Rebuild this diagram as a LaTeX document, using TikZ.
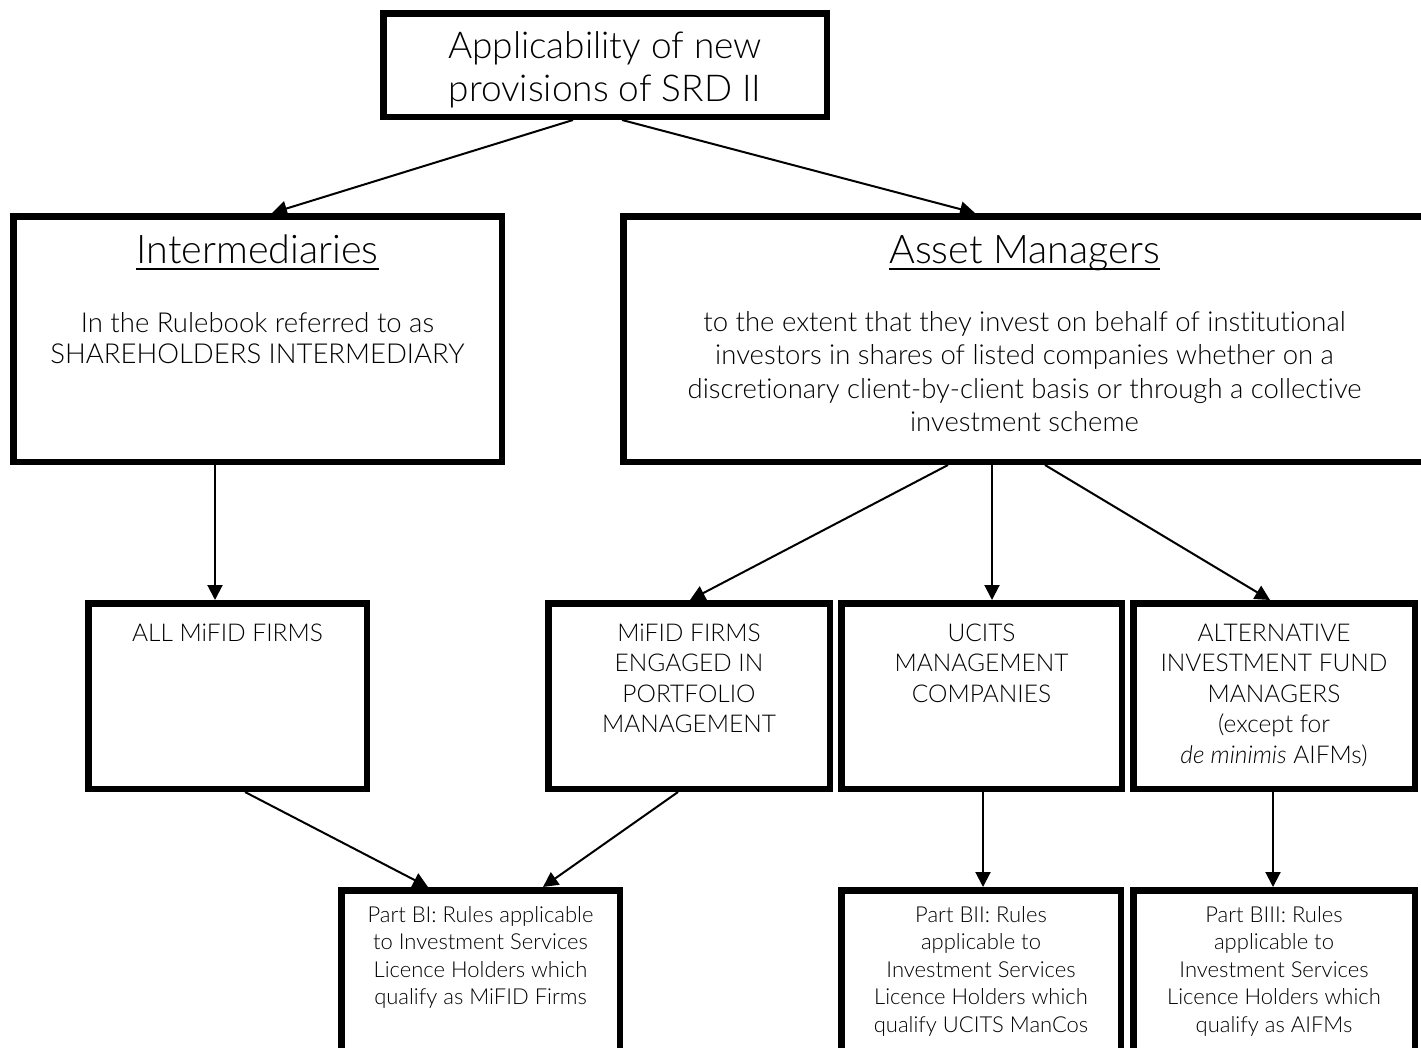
\documentclass[tikz,border=0pt]{standalone}
\usepackage{fontspec}
\setmainfont{Lato}[UprightFont=* Light, ItalicFont=* Light Italic, Ligatures=NoCommon]
\usetikzlibrary{arrows.meta,calc}
\tikzset{
  box/.style={draw=black, line width=6.5pt, inner sep=0pt, fill=white},
  txt/.style={align=center, inner sep=0pt, anchor=north},
  arr/.style={-{Triangle[length=15pt,width=15pt]}, line width=2pt},
}
\newcommand{\fs}[2]{\fontsize{#1}{#2}\selectfont}
\begin{document}
\begin{tikzpicture}[x=1pt,y=-1pt]
\useasboundingbox (0,0) rectangle (1421,1047);
\clip (0,0) rectangle (1421,1047);
\fill[white] (0,0) rectangle (1421,1047);

% boxes
\node[box, minimum width=443.5pt, minimum height=103.5pt] (top) at (605,65) {};
\node[box, minimum width=488.5pt, minimum height=245.5pt] (inter) at (257.5,339) {};
\node[box, minimum width=802.5pt, minimum height=245.5pt] (asset) at (1024.5,339) {};
\node[box, minimum width=278.5pt, minimum height=185.5pt] (allm) at (227.5,696) {};
\node[box, minimum width=281.5pt, minimum height=185.5pt] (pm) at (689,696) {};
\node[box, minimum width=280.5pt, minimum height=185.5pt] (ucits) at (981.5,696) {};
\node[box, minimum width=281.5pt, minimum height=185.5pt] (aifm) at (1274,696) {};
\node[box, minimum width=278.5pt, minimum height=176.5pt] (bi) at (480.5,978.5) {};
\node[box, minimum width=279.5pt, minimum height=176.5pt] (bii) at (981,978.5) {};
\node[box, minimum width=281.5pt, minimum height=176.5pt] (biii) at (1274,978.5) {};

% texts
\node[txt, font=\fs{37}{43}] (toptxt) at (605,27.9) {\strut Applicability of new\\provisions of SRD II};
\node[inner sep=0pt, anchor=base, font=\fs{39.5}{42}] (intertitle) at (257.5,263) {Intermediaries};
\draw[line width=2pt] ([yshift=-6pt]intertitle.base west) -- ([yshift=-6pt]intertitle.base east);
\node[txt, font=\fs{27.5}{31}] (intertxt) at (257.5,310.3) {\strut In the Rulebook referred to as\\SHAREHOLDERS INTERMEDIARY};
\node[inner sep=0pt, anchor=base, font=\fs{39.5}{42}] (assettitle) at (1024.5,263) {Asset Managers};
\draw[line width=2pt] ([yshift=-6pt]assettitle.base west) -- ([yshift=-6pt]assettitle.base east);
\node[txt, font=\fs{27.5}{33.5}] (assettxt) at (1024.5,307.5) {\strut to the extent that they invest on behalf of institutional\\investors in shares of listed companies whether on a\\discretionary client-by-client basis or through a collective\\investment scheme};

\node[txt, font=\fs{24.5}{30.5}] (allmtxt) at (227.5,619.6) {\strut ALL MiFID FIRMS};
\node[txt, font=\fs{24.5}{30.5}] (pmtxt) at (689,619.6) {\strut MiFID FIRMS\\ENGAGED IN\\PORTFOLIO\\MANAGEMENT};
\node[txt, font=\fs{24.5}{30.5}] (ucitstxt) at (981.5,619.6) {\strut UCITS\\MANAGEMENT\\COMPANIES};
\node[txt, font=\fs{24.5}{30.5}] (aifmtxt) at (1274,619.6) {\strut ALTERNATIVE\\INVESTMENT FUND\\MANAGERS\\(except for\\\textit{de minimis} AIFMs)};

\node[txt, font=\fs{22}{27.5}] (bitxt) at (480.5,902.75) {\strut Part BI: Rules applicable\\to Investment Services\\Licence Holders which\\qualify as MiFID Firms};
\node[txt, font=\fs{22}{27.5}] (biitxt) at (981,902.75) {\strut Part BII: Rules\\applicable to\\Investment Services\\Licence Holders which\\qualify UCITS ManCos};
\node[txt, font=\fs{22}{27.5}] (biiitxt) at (1274,902.75) {\strut Part BIII: Rules\\applicable to\\Investment Services\\Licence Holders which\\qualify as AIFMs};

% connectors
\draw[arr] ([xshift=-32pt]top.south) -- ([xshift=14.5pt]inter.north);
\draw[arr] ([xshift=17pt]top.south) -- ([xshift=-49.5pt]asset.north);
\draw[arr] ([xshift=-42.5pt]inter.south) -- ([xshift=-12.5pt]allm.north);
\draw[arr] ([xshift=-76.5pt]asset.south) -- ([xshift=1pt]pm.north);
\draw[arr] ([xshift=-32.5pt]asset.south) -- ([xshift=10.5pt]ucits.north);
\draw[arr] ([xshift=20.5pt]asset.south) -- ([xshift=-4pt]aifm.north);
\draw[arr] ([xshift=17.5pt]allm.south) -- ([xshift=-52.5pt]bi.north);
\draw[arr] ([xshift=-11pt]pm.south) -- ([xshift=62.5pt]bi.north);
\draw[arr] ([xshift=1.5pt]ucits.south) -- ([xshift=2pt]bii.north);
\draw[arr] ([xshift=-1pt]aifm.south) -- ([xshift=-1pt]biii.north);
\end{tikzpicture}
\end{document}
